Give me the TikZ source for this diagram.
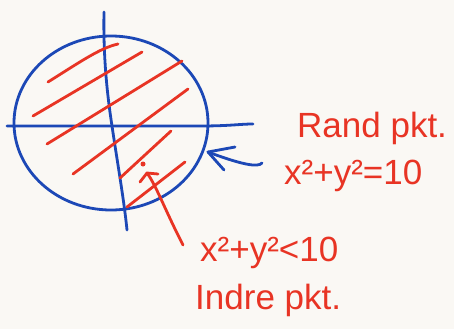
\documentclass[tikz,border=0pt]{standalone}
\usepackage{fontspec}
\setmainfont{Liberation Sans}
\usetikzlibrary{arrows.meta}
\definecolor{paper}{RGB}{250,248,244}
\definecolor{pen}{RGB}{232,52,36}
\definecolor{ink}{RGB}{28,72,182}
\tikzset{
  blueline/.style={draw=ink,line width=2.8pt,line cap=round,line join=round},
  redline/.style={draw=pen,line width=2.8pt,line cap=round,line join=round},
  label/.style={text=pen,font=\fontsize{35}{38}\selectfont,inner sep=0pt,anchor=base west},
}
\begin{document}
\begin{tikzpicture}[x=1pt,y=-1pt]
\fill[paper] (0,0) rectangle (454,329);
\useasboundingbox (0,0) rectangle (454,329);
% circle
\coordinate (c) at (111,123);
\draw[blueline] (c) ellipse [x radius=97, y radius=87];
% axes
\coordinate (xl) at (7,126);
\coordinate (xr) at (253,124);
\coordinate (yt) at (104,12);
\coordinate (yb) at (127,230);
\draw[blueline] (xl) -- (200,126) .. controls (230,126) and (240,124) .. (xr);
\draw[blueline] (yt) .. controls (103,60) and (108,100) .. (112,126) .. controls (117,160) and (124,200) .. (yb);
% hatching
\draw[redline] (48,82) .. controls (80,62) and (100,48) .. (118,44);
\draw[redline] (33,116) -- (142,52);
\draw[redline] (47,144) -- (182,61);
\draw[redline] (73,174) -- (188,89);
\draw[redline] (120,178) -- (171,131);
\draw[redline] (127,207) -- (185,162);
% inner point
\node[circle,fill=pen,inner sep=0pt,minimum size=5pt] (pt) at (143,164) {};
% labels
\node[label] (rand) at (297,137) {Rand pkt.};
\node[label] (eq) at (284,184) {x²+y²=10};
\node[label] (lt) at (200,261) {x²+y²<10};
\node[label] (indre) at (195,309) {Indre pkt.};
% blue arrow to boundary
\coordinate (btip) at (208,152);
\coordinate (bstart) at (262,163);
\draw[blueline] (bstart) .. controls (258,168) and (240,164) .. (btip);
\draw[blueline] (235,147) -- (btip) -- (224,170);
% red arrow to inner point
\coordinate (rtip) at (147,173);
\coordinate (rstart) at (183,245);
\draw[redline] (rstart) .. controls (165,210) and (156,185) .. (rtip);
\draw[redline] (140,182) -- (rtip) -- (158,174);
\end{tikzpicture}
\end{document}
